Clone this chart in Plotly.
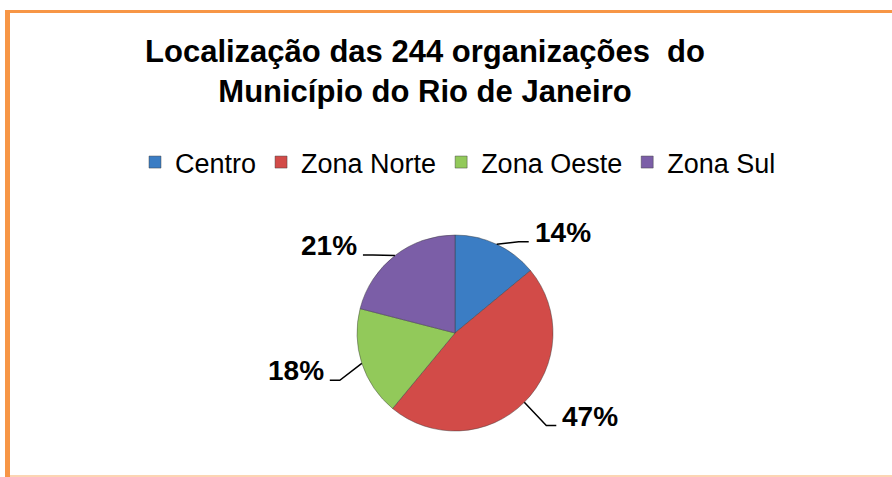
import math
import plotly.graph_objects as go

# data
regioes = ["Centro", "Zona Norte", "Zona Oeste", "Zona Sul"]
percentuais = [14, 47, 18, 21]
cores = ["#3B7DC4", "#D24B48", "#92C95A", "#7B5EA7"]

W, H = 892, 477
FONTE = "Liberation Sans, Arial, sans-serif"

# pie box in pixels (left, top, size)
pie_l, pie_t, pie_d = 357, 235, 196
dom_x = [pie_l / W, (pie_l + pie_d) / W]
dom_y = [1 - (pie_t + pie_d) / H, 1 - pie_t / H]

fig = go.Figure(go.Pie(
    labels=regioes,
    values=percentuais,
    sort=False,
    direction="clockwise",
    rotation=0,
    textinfo="none",
    hoverinfo="label+percent",
    marker=dict(colors=cores, line=dict(color="rgba(60,60,60,0.45)", width=1)),
    domain=dict(x=dom_x, y=dom_y),
))

# labels with leader lines, placed from the slice mid angles
cx = pie_l + pie_d / 2
cy = pie_t + pie_d / 2
r = pie_d / 2
total = sum(percentuais)
acum = 0
shapes = []
annotations = []
for v in percentuais:
    meio = (acum + v / 2) / total * 2 * math.pi
    acum += v
    s, c = math.sin(meio), math.cos(meio)
    lado = 1 if s >= 0 else -1
    px, py = cx + r * s, cy - r * c
    ex, ey = px + 22 * lado, py + 12 - 16 * c
    hx = ex + 10 * lado
    path = "M {:.5f},{:.5f} L {:.5f},{:.5f} L {:.5f},{:.5f}".format(
        px / W, 1 - py / H, ex / W, 1 - ey / H, hx / W, 1 - ey / H)
    shapes.append(dict(type="path", xref="paper", yref="paper", path=path,
                       line=dict(color="black", width=1.5)))
    annotations.append(dict(
        x=(hx + 4 * lado) / W, y=1 - ey / H, xref="paper", yref="paper",
        text="{}%".format(v), showarrow=False,
        xanchor="left" if lado > 0 else "right", yanchor="bottom", yshift=-8,
        font=dict(family=FONTE, size=28, color="black", weight="bold"),
    ))

# frame
laranja = "#F79646"
shapes += [
    dict(type="rect", xref="paper", yref="paper", x0=5 / W, x1=10 / W,
         y0=0, y1=1 - 10 / H, fillcolor=laranja, line=dict(width=0), layer="below"),
    dict(type="rect", xref="paper", yref="paper", x0=5 / W, x1=1,
         y0=1 - 13 / H, y1=1 - 10 / H, fillcolor=laranja, line=dict(width=0), layer="below"),
    dict(type="rect", xref="paper", yref="paper", x0=10 / W, x1=1,
         y0=0, y1=2 / H, fillcolor="#FCD5B4", line=dict(width=0), layer="below"),
]

fig.update_layout(
    width=W, height=H,
    margin=dict(l=0, r=0, t=0, b=0),
    paper_bgcolor="white",
    plot_bgcolor="white",
    title=dict(
        text="Localização das 244 organizações  do<br>Município do Rio de Janeiro",
        x=425 / W, xanchor="center", y=1 - 62 / H, yanchor="top",
        font=dict(family=FONTE, size=31, color="black", weight="bold"),
    ),
    legend=dict(
        orientation="h", x=458 / W, xanchor="center", y=1 - 138 / H, yanchor="top",
        font=dict(family=FONTE, size=27, color="black"),
        traceorder="normal",
    ),
    shapes=shapes,
    annotations=annotations,
)

fig.write_html("out.html", config={"displayModeBar": False},
               post_script="document.body.style.margin = '0';")
